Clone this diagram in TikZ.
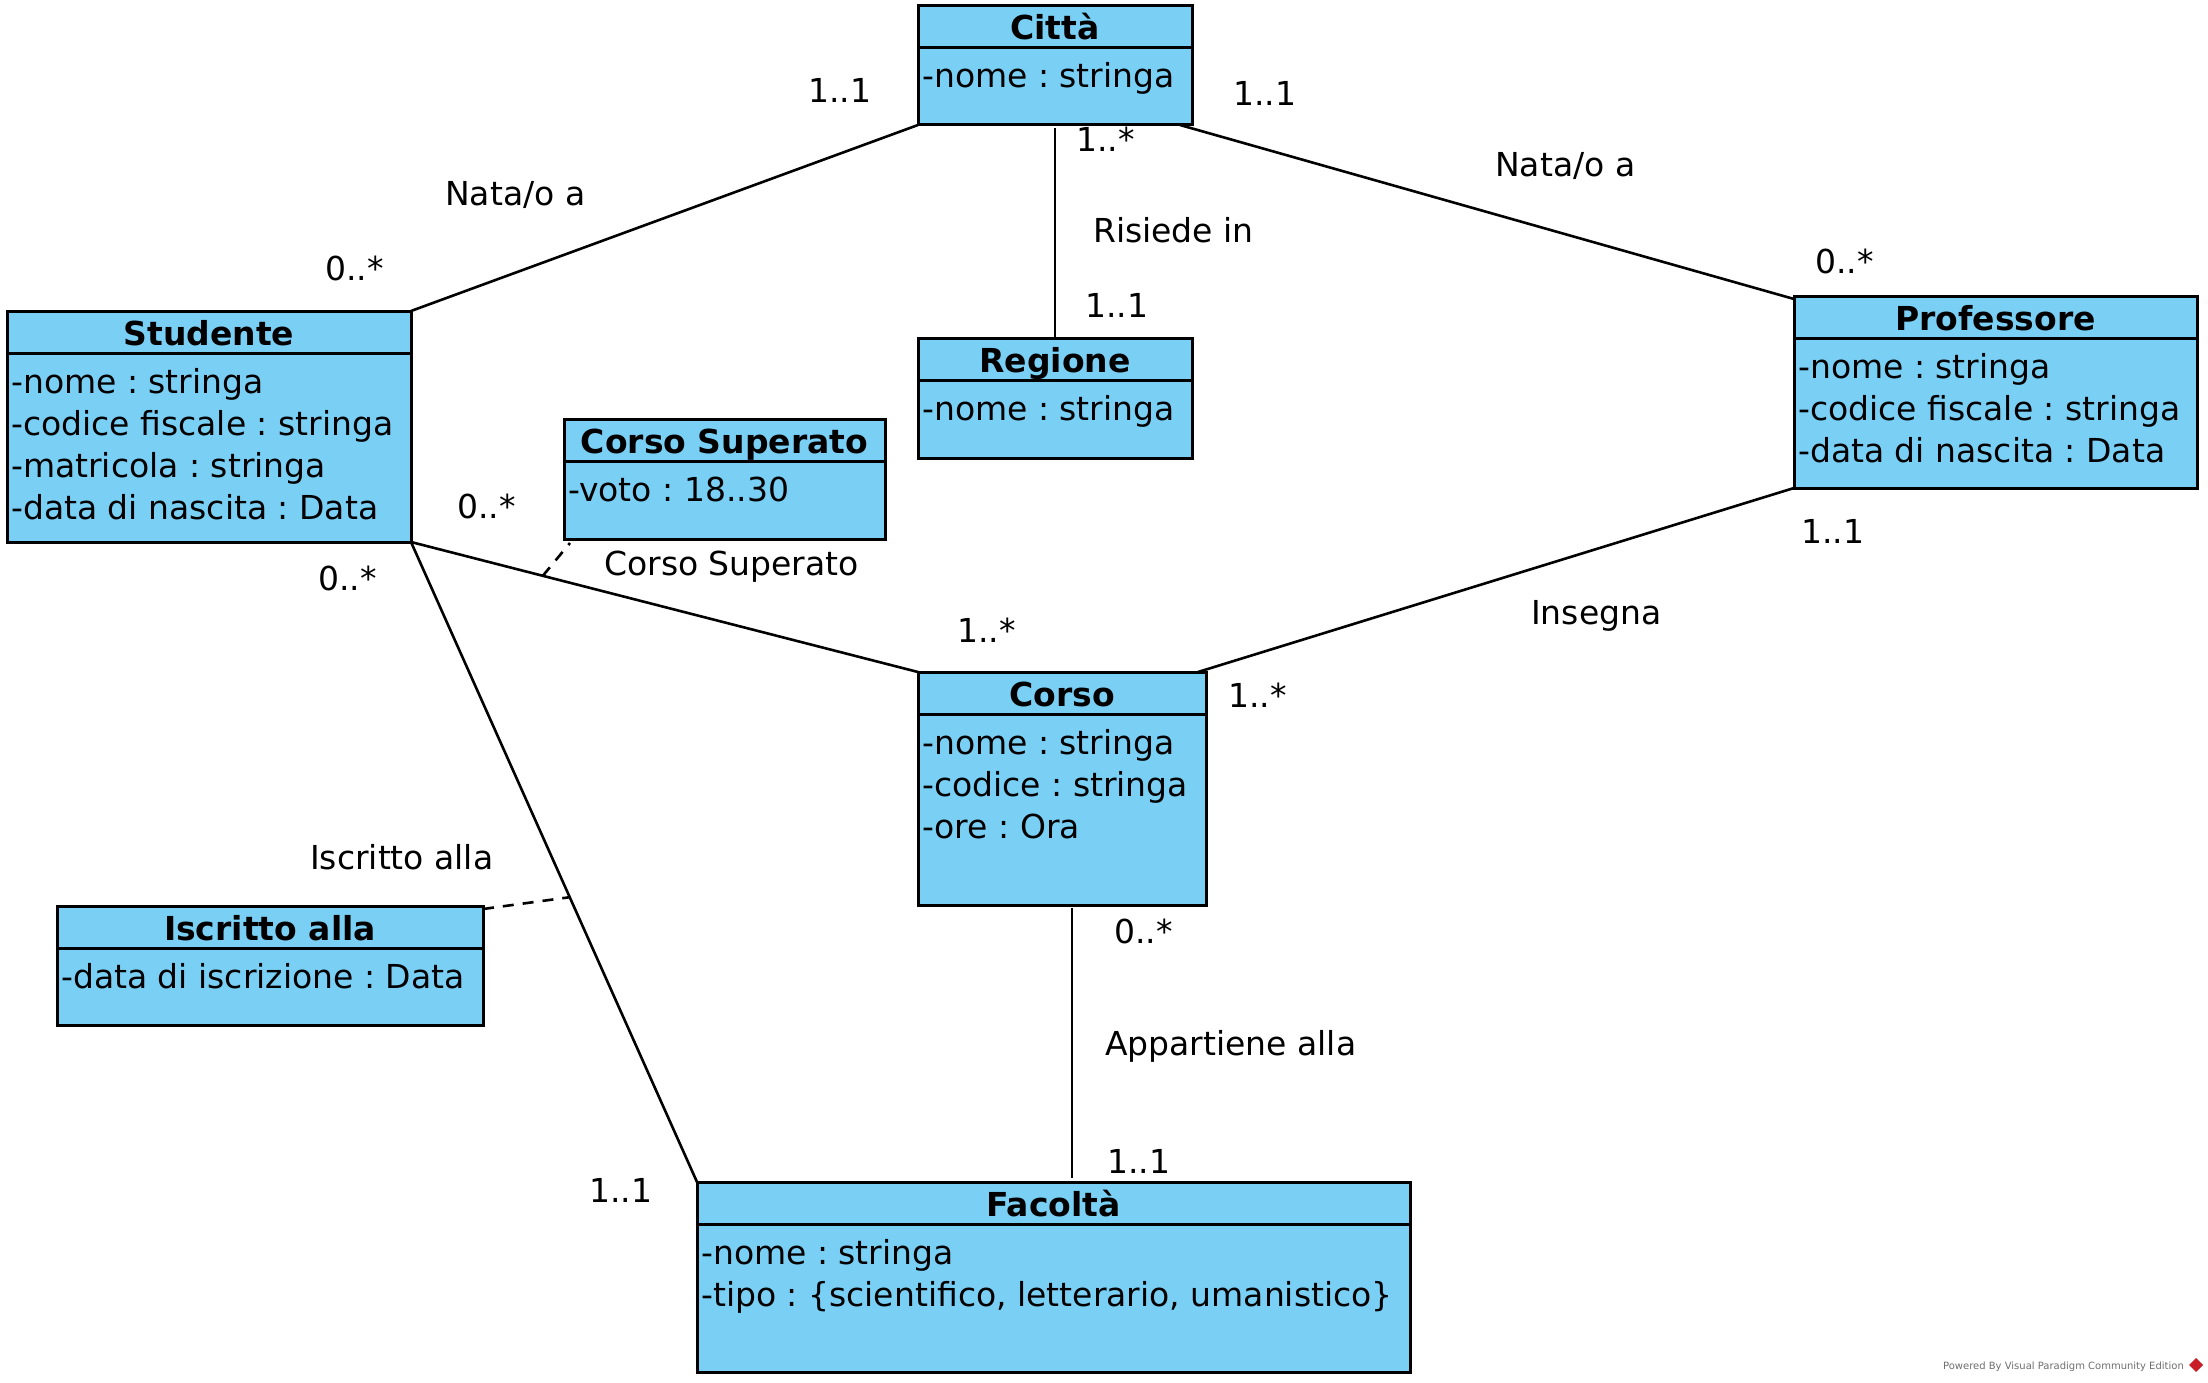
\documentclass[tikz,border=0pt]{standalone}
\usepackage{fontspec}
\setmainfont{DejaVu Sans}
\usetikzlibrary{calc}
\frenchspacing

\definecolor{classfill}{RGB}{122,207,245}
\definecolor{footgrey}{RGB}{110,110,110}
\definecolor{vpred}{RGB}{200,30,40}

\tikzset{
  classbox/.style={draw=black, fill=classfill, line width=3pt, inner sep=0pt, outer sep=0pt, anchor=north west},
  classtitle/.style={font=\fontsize{33}{42}\selectfont\bfseries, inner sep=0pt, anchor=base},
  attr/.style={font=\fontsize{33}{42}\selectfont, inner sep=0pt, anchor=base west},
  lbl/.style={font=\fontsize{33}{42}\selectfont, inner sep=0pt, anchor=base west},
  assoc/.style={line width=2.6pt, draw=black},
  assocclass/.style={line width=2.6pt, draw=black, dash pattern=on 11pt off 9pt},
}

% class box: name, left, top, right, bottom, title, attribute list
\newcommand\umlclass[7]{%
  \node[classbox, minimum width={(#4-#2)*1pt}, minimum height={(#5-#3)*1pt}] (#1) at (#2,#3) {};
  \draw[line width=3pt] ([yshift=-42pt]#1.north west) -- ([yshift=-42pt]#1.north east);
  \node[classtitle] at ($(#1.north)+(0,34)$) {#6};
  \foreach \attrtext [count=\k] in {#7} {
    \node[attr] at ($(#1.north west)+(4,{40+42*\k})$) {\attrtext};
  }
}

\begin{document}
\begin{tikzpicture}[x=1pt, y=-1pt]
\useasboundingbox (0,0) rectangle (2208,1383);

% classes
\umlclass{citta}{918}{6}{1192}{125}{Città}{{-nome : stringa}}
\umlclass{studente}{7}{311}{411}{542}{Studente}{{-nome : stringa},{-codice fiscale : stringa},{-matricola : stringa},{-data di nascita : Data}}
\umlclass{regione}{918}{338}{1192}{458}{Regione}{{-nome : stringa}}
\umlclass{professore}{1794}{296}{2197}{488}{Professore}{{-nome : stringa},{-codice fiscale : stringa},{-data di nascita : Data}}
\umlclass{corsosup}{564}{419}{885}{539}{Corso Superato}{{-voto : 18..30}}
\umlclass{corso}{918}{672}{1206}{905}{Corso}{{-nome : stringa},{-codice : stringa},{-ore : Ora}}
\umlclass{iscritto}{57}{906}{483}{1025}{Iscritto alla}{{-data di iscrizione : Data}}
\umlclass{facolta}{697}{1182}{1410}{1372}{Facoltà}{{-nome : stringa},{-tipo : \{scientifico, letterario, umanistico\}}}

% associations
\draw[assoc] (studente.north east) -- (citta.south west);
\draw[assoc] ([xshift=-12pt]citta.south east) -- ([yshift=-3pt]professore.north west);
\draw[assoc] ([yshift=-3pt]citta.south) -- (regione.north);
\draw[assoc] (studente.south east) -- (corso.north west);
\draw[assoc] (studente.south east) -- (facolta.north west);
\draw[assoc] (professore.south west) -- ([xshift=-8pt]corso.north east);
\draw[assoc] ([xshift=10pt,yshift=-3pt]corso.south) -- ([xshift=10pt,yshift=4pt]corso.south |- facolta.north);

% association class links
\coordinate (cslink) at ($(studente.south east)!0.26!(corso.north west)$);
\draw[assocclass] (cslink) -- ([xshift=6pt,yshift=-4pt]corsosup.south west);
\coordinate (islink) at ($(studente.south east)!0.555!(facolta.north west)$);
\draw[assocclass] ([yshift=-3pt]iscritto.north east) -- (islink);

% multiplicities and association names
\node[lbl] (m1) at (808,103) {1..1};
\node[lbl] (n1) at (445,206) {Nata/o a};
\node[lbl] (m2) at (325,280) {0..*};
\node[lbl] (m3) at (1076,152) {1..*};
\node[lbl] (n2) at (1093,243) {Risiede in};
\node[lbl] (m4) at (1085,317) {1..1};
\node[lbl] (m5) at (1233,106) {1..1};
\node[lbl] (n3) at (1495,177) {Nata/o a};
\node[lbl] (m6) at (1815,273) {0..*};
\node[lbl] (m7) at (457,518) {0..*};
\node[lbl] (n4) at (604,575) {Corso Superato};
\node[lbl] (m8) at (318,590) {0..*};
\node[lbl] (m9) at (957,642) {1..*};
\node[lbl] (m10) at (1801,543) {1..1};
\node[lbl] (n5) at (1531,624) {Insegna};
\node[lbl] (m11) at (1228,707) {1..*};
\node[lbl] (n6) at (310,869) {Iscritto alla};
\node[lbl] (m12) at (1114,943) {0..*};
\node[lbl] (n7) at (1105,1055) {Appartiene alla};
\node[lbl] (m13) at (1107,1173) {1..1};
\node[lbl] (m14) at (589,1202) {1..1};

% footer
\node[font=\fontsize{10}{11}\selectfont, text=footgrey, inner sep=0pt, anchor=base east] (foot) at (2184,1369) {Powered By Visual Paradigm Community Edition};
\fill[vpred] (2196,1358) -- (2203,1365) -- (2196,1372) -- (2189,1365) -- cycle;
\end{tikzpicture}
\end{document}
